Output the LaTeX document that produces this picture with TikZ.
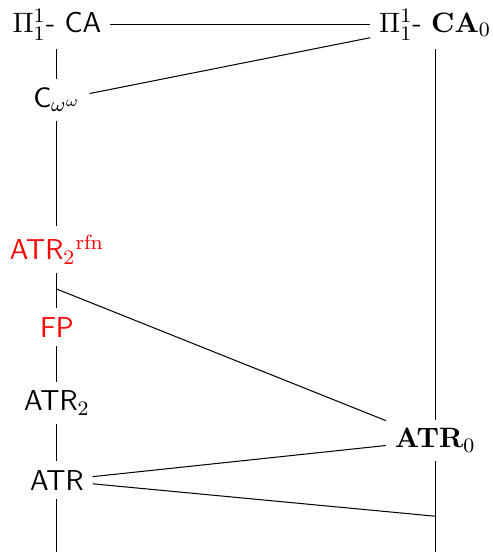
\documentclass[tikz,border=0pt]{standalone}
\usepackage{amsmath,amssymb}
\usepackage{xcolor}
\usetikzlibrary{positioning}
\definecolor{cRfn}{RGB}{255,0,0}

\begin{document}
\begin{tikzpicture}[
   sys/.style={font=\fontsize{11.2}{13.5}\selectfont\sffamily,inner sep=3.3pt},
   rsys/.style={sys,text=cRfn}]
  \useasboundingbox (0,0) rectangle (6.74,7.56);
  % left column
  \node[sys] (PCA) at (0.78,7.22) {$\Pi^1_1$- CA};
  \node[sys] (Cww) at (0.78,6.19) {$\mathsf{C}_{\omega^\omega}$};
  \node[rsys] (ATRrfn) at (0.78,4.14) {ATR$_2{}^{\mathrm{rfn}}$};
  \node[rsys] (FP) at (0.78,3.08) {FP};
  \node[sys] (ATRtwo) at (0.78,2.04) {ATR$_2$};
  \node[sys] (ATR) at (0.78,0.98) {ATR};
  \coordinate (kink) at (0.78,3.60);
  \coordinate (lbot) at (0.78,0);
  % right column
  \node[sys] (PCAz) at (5.96,7.22) {$\Pi^1_1$- $\mathbf{CA}_0$};
  \node[sys] (ATRz) at (5.96,1.53) {$\mathbf{ATR}_0$};
  \coordinate (rmid) at (5.96,0.49);
  \coordinate (rbot) at (5.96,0);
  % verticals
  \draw (PCA) -- (Cww); \draw (Cww) -- (ATRrfn); \draw (ATRrfn) -- (FP);
  \draw (FP) -- (ATRtwo); \draw (ATRtwo) -- (ATR); \draw (ATR) -- (lbot);
  \draw (PCAz) -- (ATRz); \draw (ATRz) -- (rbot);
  % cross links
  \draw (PCA) -- (PCAz); \draw (Cww) -- (PCAz);
  \draw (kink) -- (ATRz);
  \draw (ATR) -- (ATRz); \draw (ATR) -- (rmid);
\end{tikzpicture}
\end{document}
